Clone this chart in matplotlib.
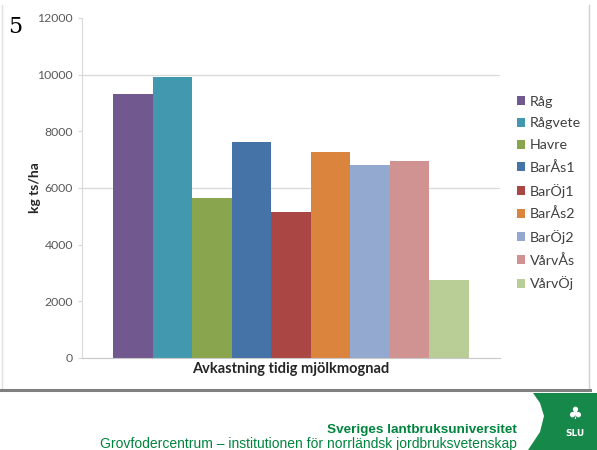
import matplotlib
matplotlib.use("Agg")
import matplotlib.pyplot as plt
from matplotlib.patches import Rectangle, Polygon
from matplotlib.lines import Line2D

categories = ["Råg", "Rågvete", "Havre", "BarÅs1", "BarÖj1", "BarÅs2", "BarÖj2", "VårvÅs", "VårvÖj"]
values = [9330, 9920, 5650, 7620, 5150, 7270, 6810, 6950, 2760]
colors = ["#71588F", "#4198AF", "#89A54E", "#4572A7", "#AA4643", "#DB843D", "#93A9CF", "#D19392", "#B9CD96"]
yticks = [0, 2000, 4000, 6000, 8000, 10000, 12000]
grid_values = [6000, 10000]
xlabel = "Avkastning tidig mjölkmognad"
ylabel = "kg ts/ha"

W, H = 597, 450
fig = plt.figure(figsize=(W / 100, H / 100), dpi=100)
fig.patch.set_facecolor("white")

def fx(px):
    return px / W

def fy(py):
    return 1 - py / H

ax = fig.add_axes([fx(82), fy(358), fx(500) - fx(82), fy(18) - fy(358)])
ax.set_xlim(0, 1)
ax.set_ylim(0, 12000)
w = 0.0946
for i, (c, v, col) in enumerate(zip(categories, values, colors)):
    ax.bar(0.5 + (i - 4) * w, v, width=w, color=col, label=c, zorder=2, linewidth=0)
for g in grid_values:
    ax.axhline(g, color="#D9D9D9", lw=0.9, zorder=1)
for s in ["top", "right"]:
    ax.spines[s].set_visible(False)
ax.spines["left"].set_color("#D9D9D9")
ax.spines["bottom"].set_color("#C8C8C8")
ax.set_xticks([])
ax.set_yticks(yticks)
ax.set_yticklabels([str(t) for t in yticks], fontsize=8.8, color="#595959", family="Lato")
ax.tick_params(axis="y", length=3, color="#D9D9D9", pad=3.5)
ax.set_xlabel(xlabel, fontsize=10.5, fontweight="bold", family="Lato", color="#262626", labelpad=3)
ax.set_ylabel(ylabel, fontsize=10, fontweight="bold", family="Lato", color="#262626")
ax.yaxis.set_label_coords((41 - 82) / 418, 0.5)

leg = ax.legend(loc="upper left", bbox_to_anchor=(fx(511), fy(90)), bbox_transform=fig.transFigure,
                frameon=False, prop={"family": "Lato", "size": 10.3}, handlelength=0.6, handleheight=0.6,
                handletextpad=0.3, labelspacing=0.68, borderaxespad=0)
for t in leg.get_texts():
    t.set_color("#404040")

# slide box borders
fig.add_artist(Line2D([fx(589), fx(589)], [fy(5), fy(390)], color="#D0D0D0", lw=1))
fig.add_artist(Line2D([fx(2), fx(2)], [fy(5), fy(390)], color="#E0E0E0", lw=1))
fig.add_artist(Line2D([fx(0), fx(590)], [fy(390), fy(390)], color="#7F7F7F", lw=2.2))

# slide number
fig.text(fx(8), fy(27), "5", fontsize=16, family="DejaVu Serif", va="center", ha="left")

# footer
green = "#00843D"
fig.text(fx(517), fy(430), "Sveriges lantbruksuniversitet", fontsize=9.7, fontweight="bold",
         color=green, ha="right", va="center", family="Liberation Sans")
fig.text(fx(517), fy(444), "Grovfodercentrum – institutionen för norrländsk jordbruksvetenskap",
         fontsize=10.0, color=green, ha="right", va="center", family="Liberation Sans")
poly = Polygon([(fx(533), fy(393)), (fx(597), fy(393)), (fx(597), fy(450)), (fx(528), fy(450)),
                (fx(540), fy(432)), (fx(544), fy(416)), (fx(540), fy(403))],
               closed=True, transform=fig.transFigure, facecolor="#16884A", edgecolor="none")
fig.add_artist(poly)
fig.text(fx(575), fy(433), "SLU", fontsize=6.5, fontweight="bold", color="white", ha="center", va="center",
         family="DejaVu Sans")
fig.text(fx(575), fy(414), "♣", fontsize=12, color="white", ha="center", va="center", family="DejaVu Sans")

fig.savefig("out.png", dpi=100)
